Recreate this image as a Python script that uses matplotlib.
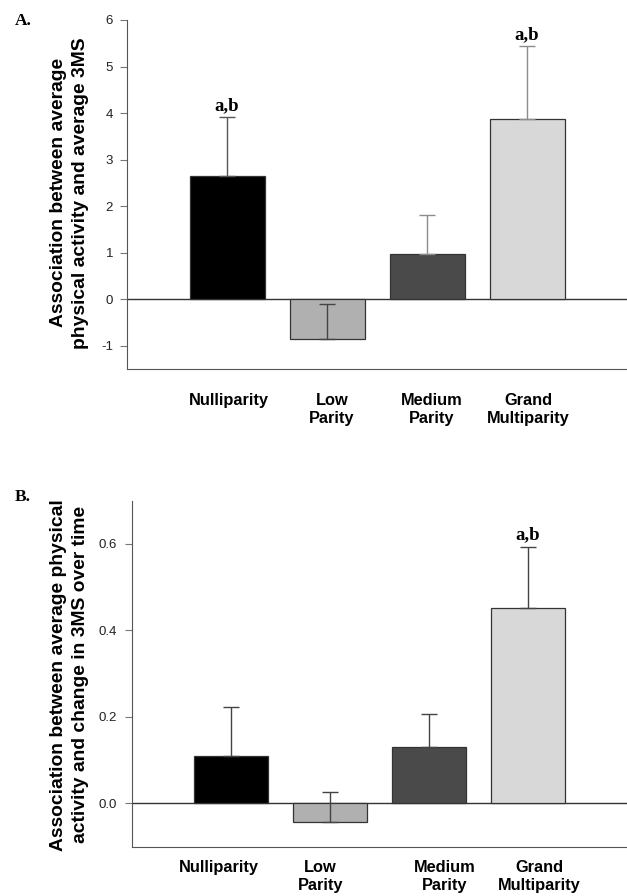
import matplotlib.pyplot as plt

# categories and values
categories = ['Nulliparity', 'Low\nParity', 'Medium\nParity', 'Grand\nMultiparity']
colors = ['#000000', '#b0b0b0', '#4a4a4a', '#d8d8d8']

# panel A: association with average 3MS
a_vals = [2.64, -0.86, 0.97, 3.88]
a_err = [1.27, 0.76, 0.84, 1.56]
a_err_colors = ['#555555', '#444444', '#8c8c8c', '#8c8c8c']
a_marks = ['a,b', '', '', 'a,b']
a_ticks = [-1, 0, 1, 2, 3, 4, 5, 6]

# panel B: association with change in 3MS over time
b_vals = [0.109, -0.042, 0.131, 0.452]
b_err = [0.115, 0.069, 0.076, 0.140]
b_err_colors = ['#444444', '#444444', '#444444', '#444444']
b_marks = ['', '', '', 'a,b']
b_ticks = [0.0, 0.2, 0.4, 0.6]
b_ticklabels = ['0.0', '0.2', '0.4', '0.6']

sans = 'Liberation Sans'
serif = 'Liberation Serif'

fig = plt.figure(figsize=(6.27, 8.96), dpi=100)
axA = fig.add_axes([0.2026, 0.5882, 0.7974, 0.3895])
axB = fig.add_axes([0.211, 0.055, 0.789, 0.3862])


def draw_panel(ax, vals, err, err_colors, marks, ylim, mark_pad, label_shift, xpad):
    x = list(range(1, len(vals) + 1))
    ax.bar(x, vals, width=0.75, color=colors, edgecolor='#333333', linewidth=0.9, zorder=2)
    for xi, v, e, c in zip(x, vals, err, err_colors):
        # error bar only goes up from the bar end
        ax.errorbar([xi], [v], yerr=[[0], [e]], fmt='none', ecolor=c,
                    elinewidth=1.0, capsize=5.5, capthick=1.0, zorder=3)
    for xi, v, e, m in zip(x, vals, err, marks):
        if m:
            ax.text(xi, v + e + mark_pad, m, ha='center', va='bottom',
                    fontfamily=serif, fontweight='bold', fontsize=13.5)
    ax.axhline(0, color='#333333', linewidth=1.0, zorder=1)
    ax.set_xlim(0, 5)
    ax.set_ylim(*ylim)
    ax.spines['top'].set_visible(False)
    ax.spines['right'].set_visible(False)
    ax.spines['left'].set_color('#555555')
    ax.spines['bottom'].set_color('#555555')
    ax.tick_params(axis='y', direction='out', length=5, width=0.8, color='#777777',
                   labelsize=9.5, labelcolor='#222222', pad=5)
    ax.set_xticks([xi + s for xi, s in zip(x, label_shift)])
    ax.set_xticklabels(categories, fontfamily=sans, fontweight='bold', fontsize=11.8,
                       linespacing=1.25, va='top')
    ax.tick_params(axis='x', length=0, pad=xpad)


draw_panel(axA, a_vals, a_err, a_err_colors, a_marks, (-1.5, 6), 0.07,
           [0.02, 0.05, 0.05, 0.01], 17.5)
axA.set_yticks(a_ticks)
axA.set_yticklabels([str(t) for t in a_ticks], fontfamily=sans)
axA.set_ylabel('Association between average\nphysical activity and average 3MS',
               fontfamily=sans, fontweight='bold', fontsize=13.9, linespacing=1.4,
               va='center')
axA.yaxis.set_label_coords((69.5 - 127) / 500, 0.505)

draw_panel(axB, b_vals, b_err, b_err_colors, b_marks, (-0.1, 0.7), 0.01,
           [-0.13, -0.1, 0.16, 0.11], 9.9)
axB.set_yticks(b_ticks)
axB.set_yticklabels(b_ticklabels, fontfamily=sans)
axB.tick_params(axis='y', pad=6)
axB.set_ylabel('Association between average physical\nactivity and change in 3MS over time',
               fontfamily=sans, fontweight='bold', fontsize=13.9, linespacing=1.4,
               va='center')
axB.yaxis.set_label_coords((69.5 - 132.3) / 495, 0.497)

fig.text(0.024, 0.977, 'A.', fontfamily=serif, fontweight='bold', fontsize=12.5, va='center')
fig.text(0.024, 0.445, 'B.', fontfamily=serif, fontweight='bold', fontsize=12.5, va='center')

fig.savefig('out.png', dpi=100)
